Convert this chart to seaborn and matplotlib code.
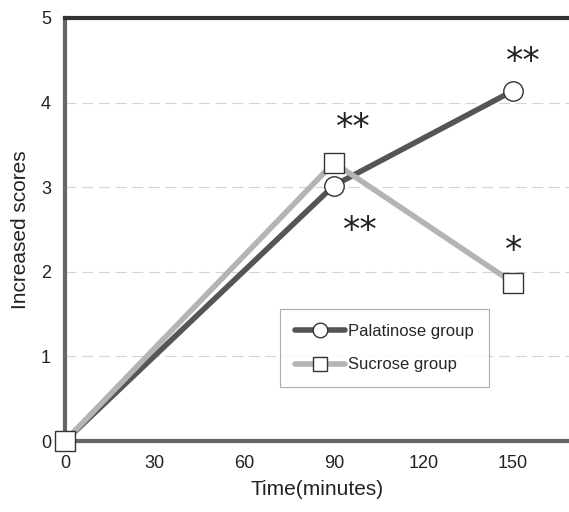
import matplotlib
matplotlib.use("Agg")
import matplotlib.pyplot as plt
import pandas as pd
import seaborn as sns

time_min = [0, 90, 150]
palatinose = [0.0, 3.02, 4.14]
sucrose = [0.0, 3.29, 1.87]
x_ticks = [0, 30, 60, 90, 120, 150]
y_ticks = [0, 1, 2, 3, 4, 5]

# significance marks: (x, y, text)
marks_x = [96.5, 99.0, 153.5, 150.0]
marks_y = [3.70, 2.48, 4.48, 2.25]
marks_txt = ["**", "**", "**", "*"]

sns.set_theme(style="white")
plt.rcParams["font.family"] = ["Liberation Sans", "DejaVu Sans"]

df = pd.DataFrame({
    "time": time_min * 2,
    "score": palatinose + sucrose,
    "group": ["Palatinose group"] * 3 + ["Sucrose group"] * 3,
})

fig = plt.figure(figsize=(5.69, 5.12), dpi=100)
ax = fig.add_axes([65 / 569, 1 - 441 / 512, 1 - 65 / 569, (441 - 18) / 512])

for y in y_ticks[1:-1]:
    ax.axhline(y, color="#d5d5d5", lw=0.8, ls=(0, (10, 5)), zorder=0)

sns.lineplot(data=df[df.group == "Palatinose group"], x="time", y="score",
             color="#555555", lw=4, marker="o", markersize=14,
             markerfacecolor="white", markeredgecolor="#333333", markeredgewidth=1,
             label="Palatinose group", ax=ax, zorder=3)
sns.lineplot(data=df[df.group == "Sucrose group"], x="time", y="score",
             color="#b4b4b4", lw=4, marker="s", markersize=14,
             markerfacecolor="white", markeredgecolor="#333333", markeredgewidth=1,
             label="Sucrose group", ax=ax, zorder=4)

for mx, my, t in zip(marks_x, marks_y, marks_txt):
    ax.text(mx, my, t, ha="center", va="center", fontsize=25, color="#222222",
            family="DejaVu Sans")

ax.set_xlim(0, 168.7)
ax.set_ylim(0, 5)
ax.set_xticks(x_ticks)
ax.set_yticks(y_ticks)
ax.tick_params(axis="both", labelsize=13, length=0, pad=10, colors="#222222")
ax.set_xlabel("Time(minutes)", fontsize=15, color="#222222", labelpad=6)
ax.set_ylabel("Increased scores", fontsize=15, color="#222222", labelpad=8)

ax.spines["left"].set_color("#666666")
ax.spines["left"].set_linewidth(3)
ax.spines["bottom"].set_color("#666666")
ax.spines["bottom"].set_linewidth(3)
ax.spines["top"].set_color("#333333")
ax.spines["top"].set_linewidth(3)
ax.spines["right"].set_visible(False)
for line in ax.lines:
    line.set_clip_on(False)

leg = ax.legend(loc="upper left", bbox_to_anchor=((280 - 65) / 504, 1 - (309 - 18) / 423),
                fontsize=12, frameon=True, fancybox=False, edgecolor="#999999",
                borderpad=0.9, labelspacing=1.1, handlelength=3.0, handletextpad=0.2,
                markerscale=0.75, borderaxespad=0)
leg.get_frame().set_linewidth(0.8)

fig.savefig("out.png", dpi=100)
